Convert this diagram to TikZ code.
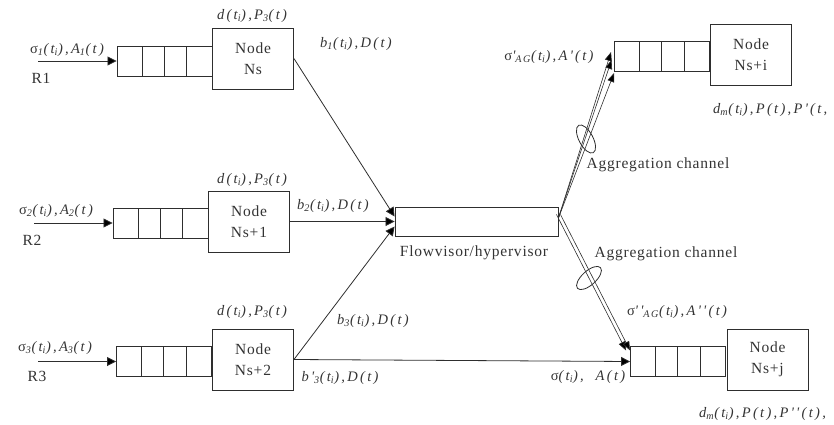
\documentclass[tikz,border=0pt]{standalone}
\usepackage{fontspec}
\setmainfont{Liberation Serif}
\newfontfamily\lab[LetterSpace=16]{Liberation Serif}
\newfontfamily\boxf[LetterSpace=5]{Liberation Serif}
\usetikzlibrary{arrows.meta,calc,shapes.geometric}
\newcommand{\tsb}[1]{\textsubscript{#1}}
\newcommand{\sg}{{\upshape σ}}
\definecolor{ink}{HTML}{2E2E2E}
\definecolor{txt}{HTML}{333333}
\tikzset{
  x=1pt,y=-1pt,
  nodebox/.style={draw=ink,line width=0.9pt,minimum width=81pt,minimum height=61pt,align=center,inner sep=0pt,text=txt,font=\fontsize{15.5}{21}\selectfont\boxf},
  queuebox/.style={draw=ink,line width=0.9pt,minimum width=95pt,minimum height=30pt,inner sep=0pt,
    path picture={\foreach \f in {.265,.495,.735}{\draw[ink,line width=0.9pt]
      ($(path picture bounding box.south west)!\f!(path picture bounding box.south east)$) --
      ($(path picture bounding box.north west)!\f!(path picture bounding box.north east)$);}}},
  fvbox/.style={draw=ink,line width=0.9pt,minimum width=163pt,minimum height=29pt,inner sep=0pt},
  link/.style={draw=ink,line width=0.8pt,-{Triangle[length=9pt,width=9pt,fill=black]}},
  thin link/.style={draw=ink,line width=0.6pt,-{Triangle[length=9pt,width=7pt,fill=black]}},
  formula/.style={inner sep=0pt,text=txt,font=\fontsize{14.5}{16}\selectfont\lab\itshape},
  plain/.style={inner sep=0pt,text=txt,font=\fontsize{15.5}{18}\selectfont\boxf},
  ring/.style={draw=ink,line width=0.8pt,ellipse,shape aspect=2,minimum width=31pt,minimum height=14pt,inner sep=0pt},
}
\begin{document}
\begin{tikzpicture}
\useasboundingbox (0,0) rectangle (834,425);
% nodes
\node[nodebox] (ns)  at (253,58.5) {Node\\Ns};
\node[nodebox] (ns1) at (249,221.5) {Node\\Ns+1};
\node[nodebox] (ns2) at (253,359.5) {Node\\Ns+2};
\node[nodebox] (nsi) at (751,55) {Node\\Ns+i};
\node[nodebox] (nsj) at (767.5,359.5) {Node\\Ns+j};
% queues
\node[queuebox] (q1) at (164.5,61) {};
\node[queuebox] (q2) at (160.5,223) {};
\node[queuebox] (q3) at (164,361.5) {};
\node[queuebox] (qi) at (662,56) {};
\node[queuebox] (qj) at (678,361.5) {};
% flowvisor
\node[fvbox] (fv) at (476.5,221.5) {};
% free ends
\coordinate (r1) at (38,61);
\coordinate (r2) at (34,223);
\coordinate (r3) at (38,361.5);
% connectors
\draw[link] (r1) -- (q1.west);
\draw[link] (r2) -- (q2.west);
\draw[link] (r3) -- (q3.west);
\draw[link] (ns.east) -- ([yshift=5pt]fv.west);
\draw[link] (ns1.east) -- (fv.west);
\draw[link] (ns2.east) -- ([yshift=-5pt]fv.west);
\draw[link] (ns2.east) -- (qj.west);
\draw[thin link] ([yshift=3.5pt]fv.east) -- ([xshift=-3pt,yshift=4pt]qi.west);
\draw[thin link] ([yshift=3.5pt]fv.east) -- ([xshift=-2.5pt,yshift=-4pt]qi.west);
\draw[thin link] ([yshift=3.5pt]fv.east) -- ([yshift=-17pt]qi.west);
\draw[thin link] ([xshift=-2pt,yshift=7pt]fv.east) -- ([xshift=-4pt,yshift=11pt]qj.west);
\draw[thin link] ([xshift=2pt,yshift=7pt]fv.east) -- ([xshift=0pt,yshift=11pt]qj.west);
% channel rings
\node[ring,rotate=-62] (ring1) at (586,139) {};
\node[ring,rotate=42] (ring2) at (589,278) {};
% formulas
\node[formula] (l1) at (67,50) {\sg\tsb{1}(t\tsb{i}),A\tsb{1}(t)};
\node[formula] (l2) at (56,211) {\sg\tsb{2}(t\tsb{i}),A\tsb{2}(t)};
\node[formula] (l3) at (55,348) {\sg\tsb{3}(t\tsb{i}),A\tsb{3}(t)};
\node[plain] (r1t) at (41,78) {R1};
\node[plain] (r2t) at (32,240) {R2};
\node[plain] (r3t) at (37,376) {R3};
\node[formula] (d1) at (252,16) {d(t\tsb{i}),P\tsb{3}(t)};
\node[formula] (d2) at (252,180) {d(t\tsb{i}),P\tsb{3}(t)};
\node[formula] (d3) at (252,312) {d(t\tsb{i}),P\tsb{3}(t)};
\node[formula] (b1) at (356,44) {b\tsb{1}(t\tsb{i}),D(t)};
\node[formula] (b2) at (333,206) {b\tsb{2}(t\tsb{i}),D(t)};
\node[formula] (b3) at (373,321) {b\tsb{3}(t\tsb{i}),D(t)};
\node[formula] (b4) at (340,378) {b'\tsb{3}(t\tsb{i}),D(t)};
\node[formula] (s1) at (549,57) {\sg'\tsb{AG}(t\tsb{i}),A'(t)};
\node[formula] (s2) at (677,312) {\sg''\tsb{AG}(t\tsb{i}),A''(t)};
\node[formula] (s3) at (588,377) {\sg(t\tsb{i}),~~A(t)};
\node[formula,anchor=west] (m1) at (713,110) {d\tsb{m}(t\tsb{i}),P(t),P'(t,};
\node[formula,anchor=west] (m2) at (699,414) {d\tsb{m}(t\tsb{i}),P(t),P''(t),};
\node[plain] (a1) at (658,165) {Aggregation channel};
\node[plain] (a2) at (666,254) {Aggregation channel};
\node[plain] (fl) at (474,253) {Flowvisor/hypervisor};
\end{tikzpicture}
\end{document}
